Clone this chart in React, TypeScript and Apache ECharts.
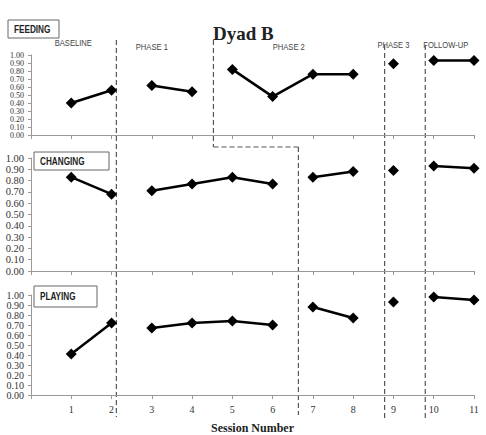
import React, { useEffect, useRef } from "react";
import * as echarts from "echarts";

const sessions = [1, 2, 3, 4, 5, 6, 7, 8, 9, 10, 11];
const feeding = [0.4, 0.56, 0.62, 0.54, 0.82, 0.48, 0.76, 0.76, 0.89, 0.93, 0.93];
const changing = [0.83, 0.68, 0.71, 0.77, 0.83, 0.77, 0.83, 0.88, 0.89, 0.93, 0.91];
const playing = [0.41, 0.72, 0.67, 0.72, 0.74, 0.7, 0.88, 0.77, 0.93, 0.98, 0.95];
const feedingPhases = [0, 0, 1, 1, 2, 2, 2, 2, 3, 4, 4];
const otherPhases = [0, 0, 1, 1, 1, 1, 2, 2, 3, 4, 4];
const panelNames = ["FEEDING", "CHANGING", "PLAYING"];
const phaseLabels = ["BASELINE", "PHASE 1", "PHASE 2", "PHASE 3", "FOLLOW-UP"];
const phaseLabelAt = [1.05, 3.0, 6.4, 9.0, 10.3];
const phaseBoundaries = [2.12, 4.53, 6.64, 8.78, 9.79];

const SERIF = "'Liberation Serif', 'DejaVu Serif', serif";
const SANS = "'Liberation Sans', sans-serif";

export default function App() {
  const ref = useRef<HTMLDivElement>(null);
  useEffect(() => {
    const chart = echarts.init(ref.current!, null, { renderer: "svg" });
    const grids = [
      { left: 31, right: 12, top: 55, height: 80 },
      { left: 31, right: 12, top: 158, height: 113 },
      { left: 31, right: 12, top: 295, height: 102 },
    ];
    const labelFont = [
      { fontSize: 8, lineHeight: 7 },
      { fontSize: 10.5, lineHeight: 11 },
      { fontSize: 10, lineHeight: 10 },
    ];
    const panels = [
      { values: feeding, phases: feedingPhases },
      { values: changing, phases: otherPhases },
      { values: playing, phases: otherPhases },
    ];
    const series: any[] = [];
    panels.forEach((p, gi) => {
      const segs: Record<number, number[][]> = {};
      sessions.forEach((s, i) => {
        (segs[p.phases[i]] ||= []).push([s, p.values[i]]);
      });
      Object.keys(segs).forEach((k) => {
        series.push({
          type: "line",
          xAxisIndex: gi,
          yAxisIndex: gi,
          data: segs[+k],
          symbol: "diamond",
          symbolSize: 11,
          lineStyle: { color: "#000", width: 2.5 },
          itemStyle: { color: "#000" },
          silent: true,
        });
      });
    });
    chart.setOption({
      animation: false,
      title: {
        text: "Dyad B",
        left: 213,
        top: 24,
        padding: 0,
        textStyle: { fontFamily: SERIF, fontWeight: "bold", fontSize: 19, color: "#222" },
      },
      grid: grids,
      xAxis: grids.map((_, gi) => ({
        type: "value",
        gridIndex: gi,
        min: 0,
        max: 11,
        interval: 1,
        splitLine: { show: false },
        axisLine: { lineStyle: { color: "#999" } },
        axisTick: { show: true, length: 4, lineStyle: { color: "#999" } },
        axisLabel: {
          show: gi === 2,
          formatter: (v: number) => (v === 0 ? "" : String(v)),
          fontFamily: SERIF,
          fontSize: 10,
          color: "#333",
          margin: 9,
        },
        name: gi === 2 ? "Session Number" : "",
        nameLocation: "middle",
        nameGap: 27,
        nameTextStyle: { fontFamily: SERIF, fontWeight: "bold", fontSize: 12, color: "#222" },
      })),
      yAxis: grids.map((_, gi) => ({
        type: "value",
        gridIndex: gi,
        min: 0,
        max: 1,
        interval: 0.1,
        splitLine: { show: false },
        axisLine: { show: true, lineStyle: { color: "#999" } },
        axisTick: { show: true, length: 3, lineStyle: { color: "#999" } },
        axisLabel: {
          formatter: (v: number) => v.toFixed(2),
          fontFamily: SERIF,
          fontSize: labelFont[gi].fontSize,
          lineHeight: labelFont[gi].lineHeight,
          color: "#333",
          margin: 7,
          showMinLabel: true,
          showMaxLabel: true,
          hideOverlap: false,
        },
      })),
      series,
    });

    const px = (v: number) => chart.convertToPixel({ xAxisIndex: 0 }, v) as number;
    const dash = { stroke: "#555", lineWidth: 1.2, lineDash: [5, 3], fill: "none" };
    const b = phaseBoundaries.map(px);
    const vline = (x: number, y1: number, y2: number) => ({
      type: "line",
      shape: { x1: x, y1, x2: x, y2 },
      style: dash,
      silent: true,
    });
    const boxes = [
      { x: 8, y: 20, w: 51, h: 18 },
      { x: 34, y: 152, w: 75, h: 18 },
      { x: 34, y: 286, w: 63, h: 21 },
    ];
    const phaseY = [43, 47, 47, 45, 45];
    const graphic: any[] = [
      vline(b[0], 40, 417),
      vline(b[1], 40, 147),
      { type: "line", shape: { x1: b[1], y1: 147, x2: b[2], y2: 147 }, style: dash, silent: true },
      vline(b[2], 147, 415),
      vline(b[3], 45, 420),
      vline(b[4], 45, 418),
    ];
    boxes.forEach((bx, i) => {
      graphic.push({
        type: "rect",
        shape: { x: bx.x, y: bx.y, width: bx.w, height: bx.h },
        style: { fill: "#fff", stroke: "#666", lineWidth: 1 },
        silent: true,
      });
      graphic.push({
        type: "text",
        x: bx.x + 6,
        y: bx.y + bx.h / 2,
        scaleX: 0.78,
        style: {
          text: panelNames[i],
          fontFamily: SANS,
          fontWeight: "bold",
          fontSize: 10.5,
          fill: "#222",
          verticalAlign: "middle",
          align: "left",
        },
        silent: true,
      });
    });
    phaseLabels.forEach((t, i) => {
      graphic.push({
        type: "text",
        x: px(phaseLabelAt[i]),
        y: phaseY[i],
        scaleX: 0.8,
        style: {
          text: t,
          fontFamily: SANS,
          fontSize: 9.5,
          fill: "#444",
          align: "center",
          verticalAlign: "middle",
        },
        silent: true,
      });
    });
    chart.setOption({ graphic });
    return () => chart.dispose();
  }, []);
  return (
    <div
      ref={ref}
      style={{ position: "absolute", left: 0, top: 0, width: 486, height: 435, background: "#fff" }}
    />
  );
}
